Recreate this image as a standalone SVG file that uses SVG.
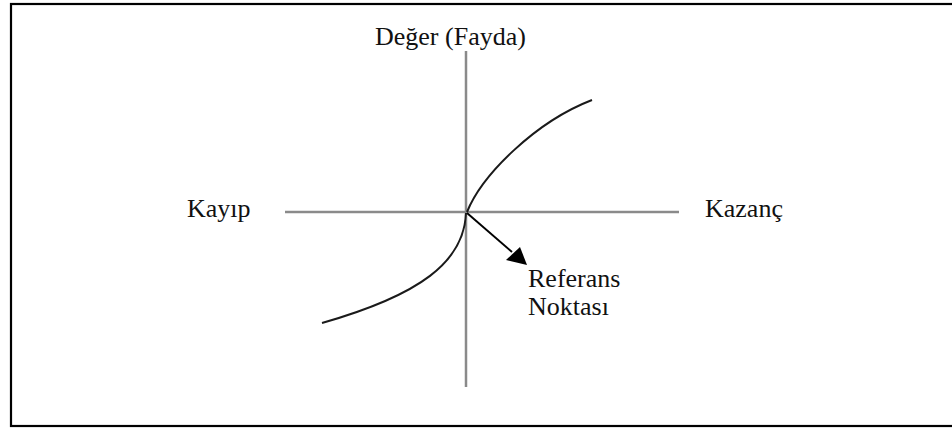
<svg xmlns="http://www.w3.org/2000/svg" width="952" height="430" viewBox="0 0 952 430">
<style>
.lbl{font-family:'Liberation Serif','Times New Roman',serif;font-size:26px;fill:#111}
.axis{stroke:#8a8a8a;stroke-width:2.5;fill:none}
.curve{stroke:#1a1a1a;stroke-width:2;fill:none}
</style>
<rect x="11" y="4" width="960" height="422" fill="#fff" stroke="#000" stroke-width="2.2"/>
<g id="axes">
<line class="axis" x1="466" y1="51" x2="466" y2="387"/>
<line class="axis" x1="285" y1="212" x2="679" y2="212"/>
</g>
<g id="curve">
<path class="curve" d="M467,212 C482,175 535,122 592,100"/>
<path class="curve" d="M466,213 C464,262 420,295 322,323"/>
</g>
<g id="connectors">
<line x1="467" y1="213" x2="512" y2="252" stroke="#000" stroke-width="2"/>
<polygon points="527,265 506,260 520,247" fill="#000"/>
</g>
<g id="label-deger"><text class="lbl" x="375" y="45">Değer (Fayda)</text></g>
<g id="label-kayip"><text class="lbl" x="187" y="217">Kayıp</text></g>
<g id="label-kazanc"><text class="lbl" x="705" y="217">Kazanç</text></g>
<g id="label-referans"><text class="lbl" x="528" y="287">Referans</text><text class="lbl" x="528" y="315">Noktası</text></g>
</svg>
